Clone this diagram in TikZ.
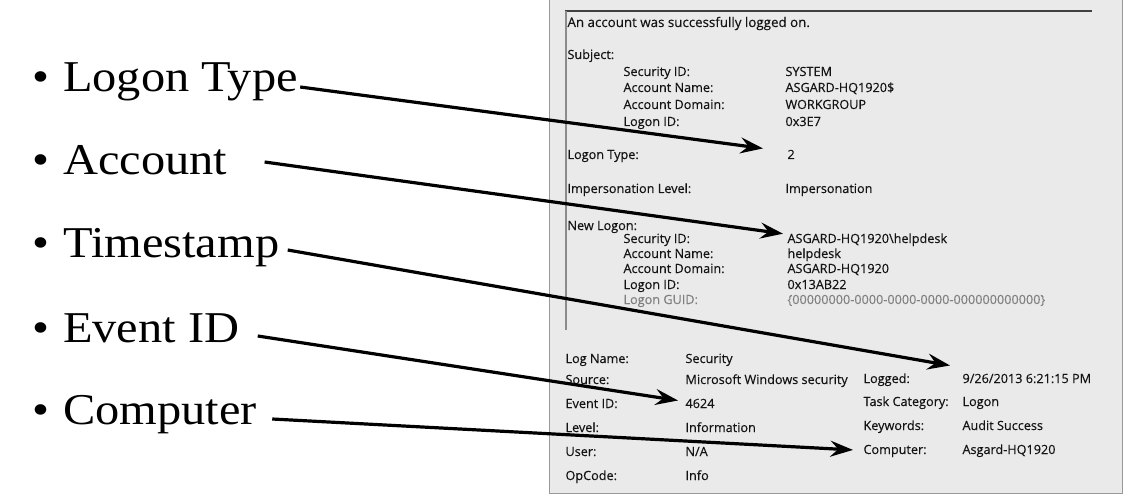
\documentclass[tikz,border=0pt]{standalone}
\usepackage{fontspec}
\setmainfont[FakeStretch=1.1]{Liberation Serif}
\newfontfamily\uifont[FakeBold=0.3]{Open Sans}
\usetikzlibrary{arrows.meta}

\definecolor{panelgray}{RGB}{234,234,234}
\definecolor{evtext}{RGB}{20,20,20}
\newcommand{\bul}{\makebox[23pt][l]{\textbullet}}

\tikzset{every picture/.style={line width=0.75pt}}
\tikzset{
  item/.style={anchor=base west, inner sep=0pt, font=\fontsize{33}{40}\selectfont, text height=0.7em, text depth=0.25em},
  ev/.style={anchor=base west, inner sep=0pt, font=\uifont\fontsize{9.5}{11}\selectfont, text=evtext},
  faded/.style={ev, text=black!50},
  pointer/.style={line width=2.4pt, -{Stealth[length=17pt,width=12pt,inset=6pt]}},
}

\begin{document}
\begin{tikzpicture}[x=0.75pt,y=0.75pt,yscale=-1,xscale=1]

\useasboundingbox (0,0) rectangle (1131,499);

% event viewer panel
\fill [panelgray] (549,-1) rectangle (1122,493) ;
\draw [black!40] (549,-1) -- (549,493) -- (1122,493) -- (1122,-1) ;
\draw [line width=1.2pt, black!75] (565,11) -- (1092,11) ;
\draw [line width=1pt, black!45] (566,11) -- (566,330) ;

% event text
\node [ev, font=\uifont\fontsize{10}{12}\selectfont] (msg) at (567,27) {An account was successfully logged on.};
\node [ev] (subj) at (567,59) {Subject:};
\node [ev] (s1) at (623,76) {Security ID:};
\node [ev] (s1v) at (785,76) {SYSTEM};
\node [ev] (s2) at (623,92) {Account Name:};
\node [ev] (s2v) at (785,92) {ASGARD-HQ1920\$};
\node [ev] (s3) at (623,109) {Account Domain:};
\node [ev] (s3v) at (785,109) {WORKGROUP};
\node [ev] (s4) at (623,126) {Logon ID:};
\node [ev] (s4v) at (785,126) {0x3E7};
\node [ev] (lty) at (567,159) {Logon Type:};
\node [ev] (t2) at (787,159) {2};
\node [ev] (imp) at (567,193) {Impersonation Level:};
\node [ev] (impv) at (785,193) {Impersonation};
\node [ev] (newl) at (567,230) {New Logon:};
\node [ev] (n1) at (623,243) {Security ID:};
\node [ev] (thd) at (787,243) {ASGARD-HQ1920\textbackslash helpdesk};
\node [ev] (n2) at (623,258) {Account Name:};
\node [ev] (n2v) at (787,258) {helpdesk};
\node [ev] (n3) at (623,273) {Account Domain:};
\node [ev] (n3v) at (787,273) {ASGARD-HQ1920};
\node [ev] (n4) at (623,289) {Logon ID:};
\node [ev] (n4v) at (787,289) {0x13AB22};
\node [faded] (n5) at (623,304) {Logon GUID:};
\node [faded] (n5v) at (787,304) {\{00000000-0000-0000-0000-000000000000\}};

\node [ev] (lname) at (565,363) {Log Name:};
\node [ev] (lnamev) at (685,363) {Security};
\node [ev] (src) at (565,384) {Source:};
\node [ev] (srcv) at (685,384) {Microsoft Windows security};
\node [ev] (lgd) at (863,383) {Logged:};
\node [ev] (tlogged) at (962,383) {9/26/2013 6:21:15 PM};
\node [ev] (eid) at (565,408) {Event ID:};
\node [ev] (tev) at (685,408) {4624};
\node [ev] (tcat) at (863,406) {Task Category:};
\node [ev] (tcatv) at (962,406) {Logon};
\node [ev] (lvl) at (565,432) {Level:};
\node [ev] (lvlv) at (685,432) {Information};
\node [ev] (kw) at (863,430) {Keywords:};
\node [ev] (kwv) at (962,430) {Audit Success};
\node [ev] (usr) at (565,456) {User:};
\node [ev] (usrv) at (685,456) {N/A};
\node [ev] (tcomp) at (863,454) {Computer:};
\node [ev] (tcompv) at (962,454) {Asgard-HQ1920};
\node [ev] (opc) at (565,480) {OpCode:};
\node [ev] (opcv) at (685,480) {Info};

% bullet list
\node [item] (ltype) at (32,92) {\bul Logon Type};
\node [item] (acct) at (32,175) {\bul Account};
\node [item] (tstamp) at (32,257) {\bul Timestamp};
\node [item] (evid) at (32,342) {\bul Event ID};
\node [item] (comp) at (32,424) {\bul Computer};

% pointers
\draw [pointer] ([shift={(2,-2)}]ltype.east) -- ([shift={(-24,-6)}]t2.west) ;
\draw [pointer] ([shift={(37,-10)}]acct.east) -- ([shift={(-4,-6)}]thd.west) ;
\draw [pointer] ([shift={(8,-4)}]tstamp.east) -- ([shift={(-12,-13)}]tlogged.west) ;
\draw [pointer] ([shift={(18,-3)}]evid.east) -- ([shift={(-7,-3)}]tev.west) ;
\draw [pointer] ([shift={(15,-2)}]comp.east) -- ([shift={(-10,-1)}]tcomp.west) ;

\end{tikzpicture}
\end{document}
